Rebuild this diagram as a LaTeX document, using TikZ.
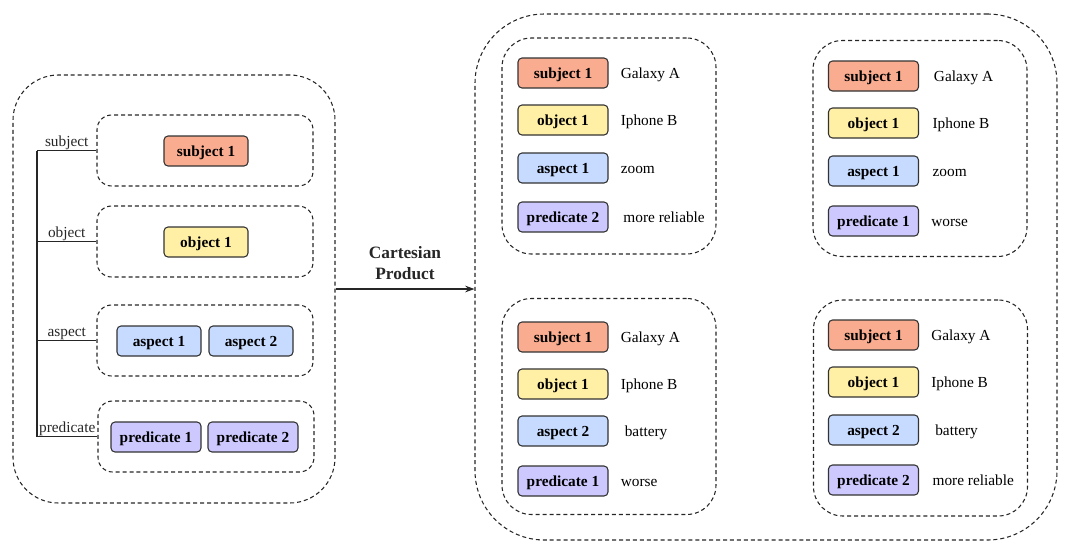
\documentclass[tikz,border=0pt]{standalone}
\usepackage{fontspec}
\setmainfont{Liberation Serif}
\usetikzlibrary{positioning,arrows.meta}

\definecolor{subjcol}{HTML}{FAAC90}
\definecolor{objcol}{HTML}{FFF0A6}
\definecolor{aspcol}{HTML}{C6DBFF}
\definecolor{predcol}{HTML}{CDC9FF}
\definecolor{edgecol}{HTML}{333333}

\tikzset{
  dashbox/.style={draw=black!85, line width=0.8pt, dash pattern=on 3pt off 2.2pt},
  outerbox/.style={dashbox, rounded corners=34pt},
  bigbox/.style={dashbox, rounded corners=52pt},
  slotbox/.style={dashbox, rounded corners=11pt, minimum width=162pt, minimum height=53.25pt},
  groupbox/.style={dashbox, rounded corners=22pt, minimum width=160.5pt, minimum height=162pt},
  tag/.style={draw=edgecol, line width=0.8pt, rounded corners=3pt, minimum height=22.5pt,
    inner xsep=3pt, text height=10pt, text depth=2pt, font=\fontsize{11.5}{13}\selectfont\bfseries},
  subjtag/.style={tag, fill=subjcol, minimum width=63pt},
  objtag/.style={tag, fill=objcol, minimum width=63pt},
  asptag/.style={tag, fill=aspcol, minimum width=63pt},
  predtag/.style={tag, fill=predcol, minimum width=63pt},
  wide/.style={minimum width=67.5pt},
  valtext/.style={inner sep=0pt, anchor=west, text height=10pt, text depth=2pt, font=\fontsize{11.5}{13}\selectfont},
  branch/.style={line width=1pt, black!85},
  brlabel/.style={midway, above, inner sep=0.3pt, font=\fontsize{11.5}{13}\selectfont},
}

\begin{document}
\begin{tikzpicture}[x=0.75pt, y=-0.75pt]
    \useasboundingbox (0,0) rectangle (1068,554);

    % Left side: the input elements
    \node[outerbox, minimum width=241.5pt, minimum height=321pt] (inbox) at (174,289) {};
    \node[slotbox] (subjbox) at (205,150.5) {};
    \node[slotbox] (objbox) at (205,241.5) {};
    \node[slotbox] (aspbox) at (205,340.5) {};
    \node[slotbox] (predbox) at (206,436.5) {};

    \node[subjtag] (insubj) at (206,151) {subject 1};
    \node[objtag] (inobj) at (206,242) {object 1};
    \node[asptag] (inasp1) at (159,341) {aspect 1};
    \node[asptag] (inasp2) at (251,341) {aspect 2};
    \node[predtag, wide] (inpred1) at (156,437) {predicate 1};
    \node[predtag, wide] (inpred2) at (253,437) {predicate 2};

    % Tree on the left
    \coordinate (root) at (37,150.5);
    \draw[branch] (root) |- (predbox.west) node[brlabel, pos=0.75] {predicate};
    \draw[branch] (root) -- (subjbox.west) node[brlabel] {subject};
    \draw[branch] (objbox.west -| root) -- (objbox.west) node[brlabel] {object};
    \draw[branch] (aspbox.west -| root) -- (aspbox.west) node[brlabel] {aspect};

    % Right side: the combinations
    \node[bigbox, minimum width=436.5pt, minimum height=394.5pt] (outbox) at (766,277) {};

    % Arrow with label
    \draw[-{Stealth[length=7pt, width=5pt]}, line width=0.9pt, black!85] (inbox.east) -- (inbox.east -| outbox.west)
        node[midway, above=3pt, align=center, font=\fontsize{13}{16}\selectfont\bfseries] {Cartesian\\Product};

    % Top left group
    \node[groupbox] (tlbox) at (609,146) {};
    \node[subjtag, wide] (tlsubj) at (563,73) {subject 1};
    \node[objtag, wide] (tlobj) at (563,120) {object 1};
    \node[asptag, wide] (tlasp) at (563,168) {aspect 1};
    \node[predtag, wide] (tlpred) at (563,217) {predicate 2};
    \node[valtext, right=9pt of tlsubj] (tlsubjval) {Galaxy A};
    \node[valtext, right=9pt of tlobj] (tlobjval) {Iphone B};
    \node[valtext, right=9pt of tlasp] (tlaspval) {zoom};
    \node[valtext, right=11pt of tlpred] (tlpredval) {more reliable};

    % Top right group
    \node[groupbox] (trbox) at (920,148.5) {};
    \node[subjtag, wide] (trsubj) at (873.5,76) {subject 1};
    \node[objtag, wide] (trobj) at (873.5,123) {object 1};
    \node[asptag, wide] (trasp) at (873.5,171) {aspect 1};
    \node[predtag, wide] (trpred) at (873.5,221) {predicate 1};
    \node[valtext, right=11pt of trsubj] (trsubjval) {Galaxy A};
    \node[valtext, right=10pt of trobj] (trobjval) {Iphone B};
    \node[valtext, right=10pt of trasp] (traspval) {zoom};
    \node[valtext, right=9pt of trpred] (trpredval) {worse};

    % Bottom left group
    \node[groupbox] (blbox) at (609,406.5) {};
    \node[subjtag, wide] (blsubj) at (563,337) {subject 1};
    \node[objtag, wide] (blobj) at (563,384) {object 1};
    \node[asptag, wide] (blasp) at (563,431) {aspect 2};
    \node[predtag, wide] (blpred) at (563,481) {predicate 1};
    \node[valtext, right=9pt of blsubj] (blsubjval) {Galaxy A};
    \node[valtext, right=9pt of blobj] (blobjval) {Iphone B};
    \node[valtext, right=12pt of blasp] (blaspval) {battery};
    \node[valtext, right=9pt of blpred] (blpredval) {worse};

    % Bottom right group
    \node[groupbox] (brbox) at (920.5,408) {};
    \node[subjtag, wide] (brsubj) at (873.5,335) {subject 1};
    \node[objtag, wide] (brobj) at (873.5,382) {object 1};
    \node[asptag, wide] (brasp) at (873.5,430) {aspect 2};
    \node[predtag, wide] (brpred) at (873.5,480) {predicate 2};
    \node[valtext, right=9pt of brsubj] (brsubjval) {Galaxy A};
    \node[valtext, right=9pt of brobj] (brobjval) {Iphone B};
    \node[valtext, right=12pt of brasp] (braspval) {battery};
    \node[valtext, right=10pt of brpred] (brpredval) {more reliable};

\end{tikzpicture}
\end{document}
